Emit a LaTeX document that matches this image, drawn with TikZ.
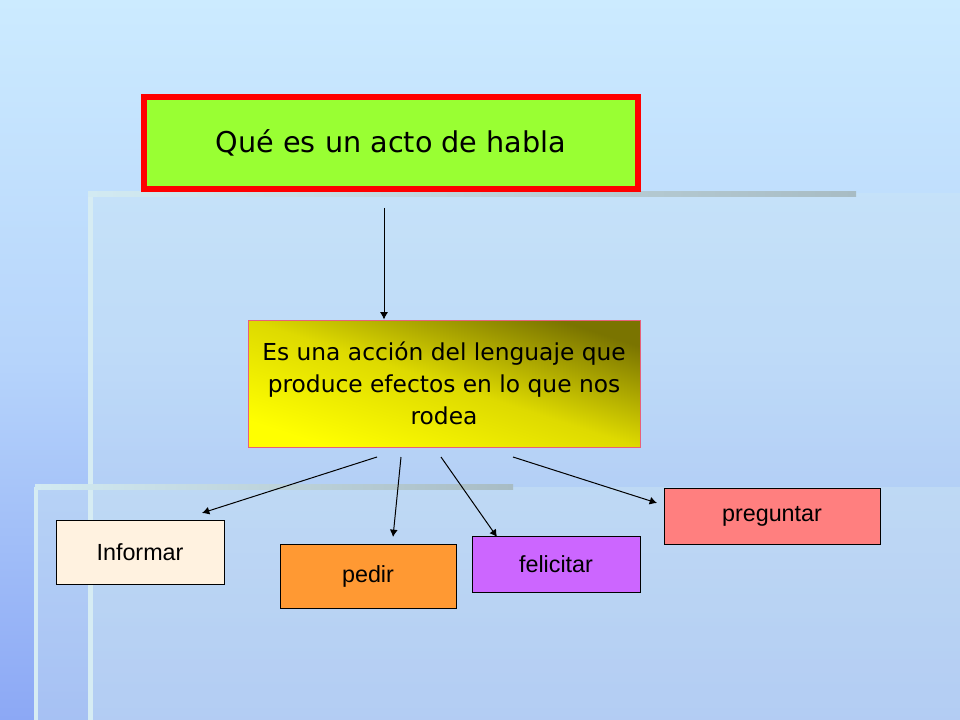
\documentclass[tikz,border=0pt]{standalone}
\usepackage{fontspec}
\setmainfont{Liberation Sans}
\newfontfamily\handfont{DejaVu Sans}
\usepackage{xcolor}
\usetikzlibrary{arrows.meta}

\definecolor{skytop}{HTML}{CCEBFF}
\definecolor{skymid}{HTML}{B6D4FB}
\definecolor{skybot}{HTML}{8CA8F5}
\definecolor{veil}{HTML}{D2EAF2}
\definecolor{bargrey}{HTML}{A8BCC4}
\definecolor{lime}{HTML}{99FF33}
\definecolor{olivebox}{HTML}{7A7400}
\definecolor{oro}{HTML}{DEDA00}
\definecolor{rosa}{HTML}{E8607A}
\definecolor{crema}{HTML}{FFF2E0}
\definecolor{naranja}{HTML}{FF9933}
\definecolor{lila}{HTML}{CC66FF}
\definecolor{salmon}{HTML}{FF7F7F}

\begin{document}
\begin{tikzpicture}[->,>={Latex[length=5.5pt,width=6pt]},x=0.75pt,y=-0.75pt,thin]
    \tikzstyle{every node}=[inner sep=0pt,text=black]
    \tikzstyle{leaf}=[draw=black,line width=0.75pt,font=\fontsize{17.5}{21}\selectfont]
    \useasboundingbox (0,0) rectangle (960,720);
    % slide background
    \shade[top color=skytop,bottom color=skybot,middle color=skymid,draw=none] (0,0) rectangle (960,720);
    \fill[veil,opacity=.3,draw=none] (88,193) rectangle (960,720);
    \fill[veil,opacity=.38,draw=none] (35,487) rectangle (960,720);
    \fill[veil!90!white,draw=none] (88,193) rectangle (93,720);
    \fill[veil!90!white,draw=none] (34,487) rectangle (38,720);
    \shade[left color=veil,right color=bargrey,draw=none] (88,192) rectangle (856,197);
    \shade[left color=veil,right color=bargrey,draw=none] (35,484) rectangle (513,489);
    % boxes
    \node[draw=red,line width=4.5pt,fill=lime,minimum width=370.5pt,minimum height=69pt,
          font=\handfont\fontsize{21.5}{26}\selectfont] (Q) at (391,143) {Qué es un acto de habla};
    \node[draw=rosa,line width=0.75pt,top color=olivebox,bottom color=yellow,middle color=oro,shading angle=-18,
          minimum width=294pt,minimum height=95.25pt,align=center,
          font=\handfont\fontsize{17.5}{24}\selectfont] (D) at (444,383.5)
          {Es una acción del lenguaje que\\produce efectos en lo que nos\\rodea};
    \node[leaf,fill=crema,minimum width=126pt,minimum height=48pt] (inf) at (140,552) {Informar};
    \node[leaf,fill=naranja,minimum width=132pt,minimum height=48pt] (ped) at (368,576) {pedir};
    \node[leaf,fill=lila,minimum width=126pt,minimum height=42pt] (fel) at (556,564) {felicitar};
    \node[leaf,fill=salmon,minimum width=162pt,minimum height=42pt] (pre) at (772,516) {preguntar};
    % free ends of the arrows
    \coordinate (q0) at (384,208);
    \coordinate (d1) at (377,457);
    \coordinate (d2) at (401,457);
    \coordinate (d3) at (441,457);
    \coordinate (d4) at (513,457);
    \coordinate (i1) at (202,513);
    \coordinate (p1) at (393,537);
    \coordinate (f1) at (497,537);
    \coordinate (g1) at (657,503);
    \draw[line width=0.75pt] (q0) -- (q0 |- D.north);
    \draw[line width=0.75pt] (d1) -- (i1);
    \draw[line width=0.75pt] (d2) -- (p1);
    \draw[line width=0.75pt] (d3) -- (f1);
    \draw[line width=0.75pt] (d4) -- (g1);
\end{tikzpicture}
\end{document}
